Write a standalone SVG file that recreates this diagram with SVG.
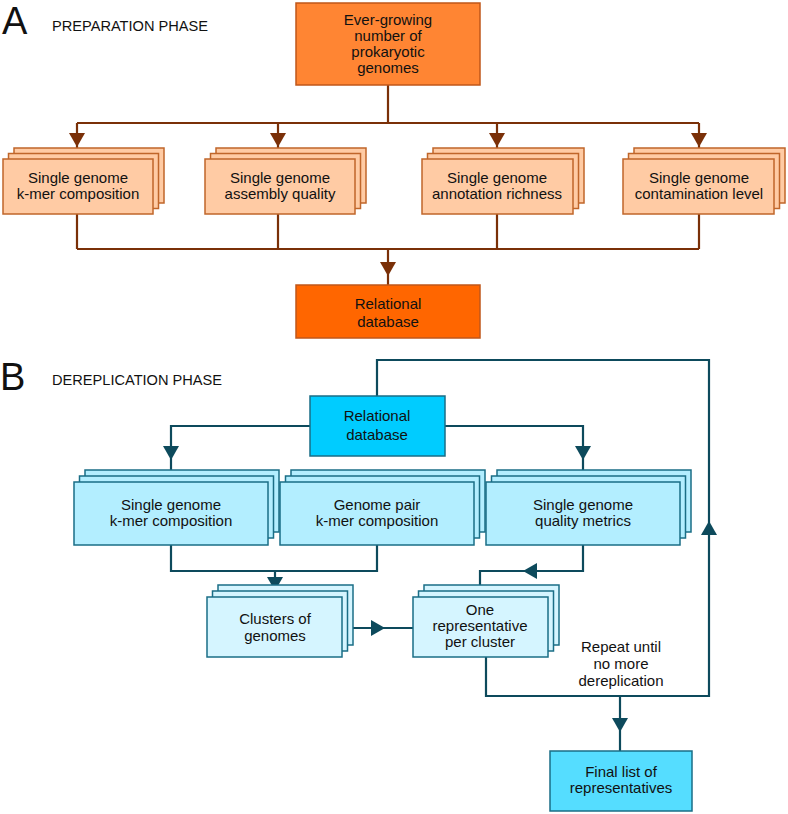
<svg xmlns="http://www.w3.org/2000/svg" width="788" height="814" viewBox="0 0 788 814">
<defs>
<style>
text{font-family:"Liberation Sans",Arial,sans-serif;fill:#111;text-anchor:middle}
.big{font-size:38px;text-anchor:start}
.phase{font-size:14.6px;text-anchor:start}
.t{font-size:15px}
.ca{fill:none;stroke:#7a3008;stroke-width:2.2}
.cb{fill:none;stroke:#0d4a5c;stroke-width:2.2}
.oa{fill:#ff8533;stroke:#c0571a;stroke-width:1.5}
.ob{fill:#ff6600;stroke:#c0571a;stroke-width:1.5}
.la{fill:#ffcba4;stroke:#c0662a;stroke-width:1.5}
.bb{fill:#00ccff;stroke:#1a6e86;stroke-width:1.5}
.lb{fill:#b3eeff;stroke:#1a6e86;stroke-width:1.5}
.vb{fill:#d5f5ff;stroke:#1a6e86;stroke-width:1.5}
.fb{fill:#55ddff;stroke:#1a6e86;stroke-width:1.5}
</style>
<path id="arA" d="M-8,-6 L8,-6 L0,8 Z" fill="#7a3008"/>
<path id="arB" d="M-8,-6 L8,-6 L0,8 Z" fill="#0d4a5c"/>
</defs>

<text class="big" x="2" y="34">A</text>
<text class="phase" x="52" y="31">PREPARATION PHASE</text>

<g id="connectors-a">
<path class="ca" d="M388,85 V123 M77,123 H699 M77,123 V159 M278,123 V159 M497,123 V159 M699,123 V159"/>
<path class="ca" d="M77,214 V249 M278,214 V249 M497,214 V249 M699,214 V249 M77,249 H699 M388,249 V285"/>
<use href="#arA" x="77" y="139"/>
<use href="#arA" x="278" y="139"/>
<use href="#arA" x="497" y="139"/>
<use href="#arA" x="699" y="139"/>
<use href="#arA" x="388" y="268"/>
</g>

<g id="genomes">
<rect class="oa" x="296" y="3" width="184" height="82"/>
<text class="t" x="388" y="25">Ever-growing</text>
<text class="t" x="388" y="41">number of</text>
<text class="t" x="388" y="57">prokaryotic</text>
<text class="t" x="388" y="73">genomes</text>
</g>

<g id="a-kmer">
<rect class="la" x="14" y="148" width="150" height="55"/>
<rect class="la" x="8.5" y="153.5" width="150" height="55"/>
<rect class="la" x="3" y="159" width="150" height="55"/>
<text class="t" x="78" y="183">Single genome</text>
<text class="t" x="78" y="199">k-mer composition</text>
</g>
<g id="a-assembly">
<rect class="la" x="216" y="148" width="150" height="55"/>
<rect class="la" x="210.5" y="153.5" width="150" height="55"/>
<rect class="la" x="205" y="159" width="150" height="55"/>
<text class="t" x="280" y="183">Single genome</text>
<text class="t" x="280" y="199">assembly quality</text>
</g>
<g id="a-annotation">
<rect class="la" x="433" y="148" width="151" height="55"/>
<rect class="la" x="427.5" y="153.5" width="151" height="55"/>
<rect class="la" x="422" y="159" width="151" height="55"/>
<text class="t" x="497" y="183">Single genome</text>
<text class="t" x="497" y="199">annotation richness</text>
</g>
<g id="a-contamination">
<rect class="la" x="634" y="148" width="151" height="55"/>
<rect class="la" x="628.5" y="153.5" width="151" height="55"/>
<rect class="la" x="623" y="159" width="151" height="55"/>
<text class="t" x="699" y="183">Single genome</text>
<text class="t" x="699" y="199">contamination level</text>
</g>

<g id="a-database">
<rect class="ob" x="296" y="285" width="184" height="53"/>
<text class="t" x="388" y="309">Relational</text>
<text class="t" x="388" y="327">database</text>
</g>

<text class="big" x="0" y="390">B</text>
<text class="phase" x="52" y="385">DEREPLICATION PHASE</text>

<g id="connectors-b">
<path class="cb" d="M377,396 V360 H709 V696 H486 V657"/>
<path class="cb" d="M310,426 H171 V482 M445,426 H583 V482"/>
<path class="cb" d="M171,545 V571 H377 V545 M275,571 V597"/>
<path class="cb" d="M583,545 V571 H480 V597"/>
<path class="cb" d="M342,628 H413"/>
<path class="cb" d="M620,696 V751"/>
<use href="#arB" x="171" y="452"/>
<use href="#arB" x="583" y="452"/>
<use href="#arB" x="275" y="583"/>
<use href="#arB" x="377" y="628" transform="rotate(-90 377 628)"/>
<use href="#arB" x="531" y="571" transform="rotate(90 531 571)"/>
<use href="#arB" x="709" y="529" transform="rotate(180 709 529)"/>
<use href="#arB" x="620" y="724"/>
</g>

<g id="b-database">
<rect class="bb" x="310" y="396" width="135" height="60"/>
<text class="t" x="377" y="421">Relational</text>
<text class="t" x="377" y="440">database</text>
</g>

<g id="b-kmer">
<rect class="lb" x="85" y="470" width="194" height="62"/>
<rect class="lb" x="79.5" y="476" width="194" height="62"/>
<rect class="lb" x="74" y="482" width="194" height="63"/>
<text class="t" x="171" y="510">Single genome</text>
<text class="t" x="171" y="526">k-mer composition</text>
</g>
<g id="b-pair">
<rect class="lb" x="291" y="470" width="194" height="62"/>
<rect class="lb" x="285.5" y="476" width="194" height="62"/>
<rect class="lb" x="280" y="482" width="194" height="63"/>
<text class="t" x="377" y="510">Genome pair</text>
<text class="t" x="377" y="526">k-mer composition</text>
</g>
<g id="b-quality">
<rect class="lb" x="497" y="470" width="194" height="62"/>
<rect class="lb" x="491.5" y="476" width="194" height="62"/>
<rect class="lb" x="486" y="482" width="194" height="63"/>
<text class="t" x="583" y="510">Single genome</text>
<text class="t" x="583" y="526">quality metrics</text>
</g>

<g id="clusters">
<rect class="vb" x="218" y="585" width="135" height="60"/>
<rect class="vb" x="212.5" y="591" width="135" height="60"/>
<rect class="vb" x="207" y="597" width="135" height="60"/>
<text class="t" x="275" y="624">Clusters of</text>
<text class="t" x="275" y="641">genomes</text>
</g>

<g id="representative">
<rect class="vb" x="424" y="585" width="135" height="60"/>
<rect class="vb" x="418.5" y="591" width="135" height="60"/>
<rect class="vb" x="413" y="597" width="135" height="60"/>
<text class="t" x="480" y="615">One</text>
<text class="t" x="480" y="631">representative</text>
<text class="t" x="480" y="647">per cluster</text>
</g>

<g id="repeat-label">
<text class="t" x="621" y="652">Repeat until</text>
<text class="t" x="621" y="669">no more</text>
<text class="t" x="621" y="686">dereplication</text>
</g>

<g id="final">
<rect class="fb" x="550" y="751" width="142" height="60"/>
<text class="t" x="621" y="777">Final list of</text>
<text class="t" x="621" y="793">representatives</text>
</g>
</svg>
